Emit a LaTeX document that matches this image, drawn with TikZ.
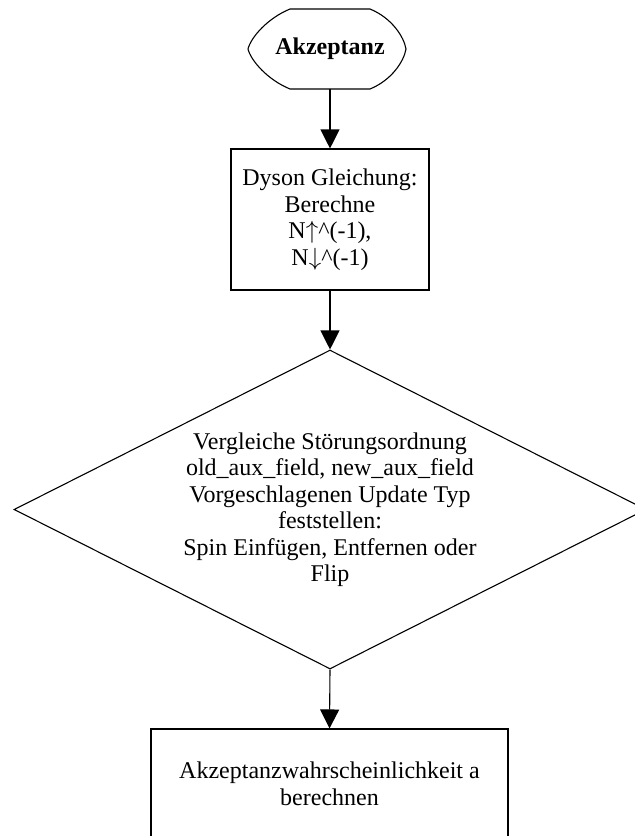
\documentclass[tikz,border=0pt]{standalone}
\usepackage{fontspec}
\setmainfont{Liberation Serif}
\usetikzlibrary{arrows.meta,shapes.geometric}
\begin{document}
\begin{tikzpicture}[x=1pt,y=-1pt,
  every node/.style={font=\fontsize{24}{26.5}\selectfont, align=center, inner sep=0pt},
  outline/.style={draw=black, line width=1.1pt},
  procbox/.style={rectangle, outline},
  decision/.style={diamond, outline},
  flow/.style={draw=black, line width=1.1pt, -{Triangle[length=19pt,width=19pt]}}]
  \useasboundingbox (0,0) rectangle (635,836);
  \clip (0,0) rectangle (635,836);

  % start terminal
  \node (start) [minimum width=156pt, minimum height=80pt] at (330,49) {\textbf{Akzeptanz}};
  \begin{scope}[shift={(start.center)}]
    \draw[outline] (-40,-40) -- (40,-40)
      .. controls (62,-31) and (74,-12) .. (76,0)
      .. controls (74,12) and (62,31) .. (40,40)
      -- (-40,40)
      .. controls (-62,31) and (-79,12) .. (-82,0)
      .. controls (-79,-12) and (-62,-31) .. (-40,-40) -- cycle;
  \end{scope}

  % Dyson step
  \node (dyson) [procbox, minimum width=198pt, minimum height=141pt] at (330,219.5)
    {Dyson Gleichung:\\Berechne\\N$\uparrow$\^{}(-1),\\N$\downarrow$\^{}(-1)};

  % comparison / update type
  \node (cmp) [decision, minimum width=632pt, minimum height=319pt, aspect=1.98] at (330,509.5)
    {Vergleiche Störungsordnung\\old\_aux\_field, new\_aux\_field\\Vorgeschlagenen Update Typ\\feststellen:\\Spin Einfügen, Entfernen oder\\Flip};

  % acceptance probability
  \node (prob) [procbox, minimum width=357pt, minimum height=110pt] at (329.5,784)
    {Akzeptanzwahrscheinlichkeit a\\berechnen};

  \draw[flow] (start.south) -- (dyson.north);
  \draw[flow] (dyson.south) -- (cmp.north);
  \draw[flow] (cmp.south) -- (prob.north);
\end{tikzpicture}
\end{document}
